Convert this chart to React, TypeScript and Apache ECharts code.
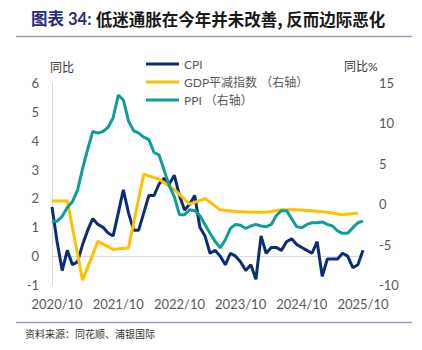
import React, { useEffect, useRef } from 'react';
import * as echarts from 'echarts';

// Monthly categories 2020/9 .. 2025/10
const months: string[] = [];
{
  let y = 2020;
  let m = 9;
  while (y < 2025 || (y === 2025 && m <= 10)) {
    months.push(`${y}/${m}`);
    m++;
    if (m > 12) { m = 1; y++; }
  }
}

const cpi = [
  1.7, 0.5, -0.5, 0.2, -0.3, -0.2, 0.4, 0.9, 1.3, 1.1, 1.0, 0.8,
  0.7, 1.5, 2.3, 1.5, 0.9, 0.9, 1.5, 2.1, 2.1, 2.5, 2.7, 2.5,
  2.8, 2.1, 1.6, 1.8, 2.1, 1.0, 0.7, 0.1, 0.2, 0.0, -0.3, 0.1,
  0.0, -0.2, -0.5, -0.3, -0.8, 0.7, 0.1, 0.3, 0.3, 0.2, 0.5, 0.6,
  0.4, 0.3, 0.2, 0.1, 0.5, -0.7, -0.1, -0.1, -0.1, 0.1, 0.0, -0.4,
  -0.3, 0.2,
];

const ppi = [
  -2.1, -2.1, -1.5, -0.4, 0.3, 1.7, 4.4, 6.8, 9.0, 8.8, 9.0, 9.5,
  10.7, 13.5, 12.9, 10.3, 9.1, 8.8, 8.3, 8.0, 6.4, 6.1, 4.2, 2.3,
  0.9, -1.3, -1.3, -0.7, -0.8, -1.4, -2.5, -3.6, -4.6, -5.4, -4.4, -3.0,
  -2.5, -2.6, -3.0, -2.7, -2.5, -2.7, -2.8, -2.5, -1.4, -0.8, -0.8, -1.8,
  -2.8, -2.9, -2.5, -2.3, -2.3, -2.2, -2.5, -2.7, -3.3, -3.6, -3.6, -2.9,
  -2.3, -2.1,
];

// GDP deflator, quarterly (quarter-end months)
const gdpQuarters = [
  '2020/9', '2020/12', '2021/3', '2021/6', '2021/9', '2021/12', '2022/3',
  '2022/6', '2022/9', '2022/12', '2023/3', '2023/6', '2023/9', '2023/12',
  '2024/3', '2024/6', '2024/9', '2024/12', '2025/3', '2025/6', '2025/9',
];
const gdpValues = [
  0.4, 0.4, -9.4, -4.6, -5.6, -5.4, 3.7,
  3.1, 1.8, 0.0, 0.7, -0.7, -0.9, -1.0,
  -1.0, -0.7, -0.7, -0.8, -1.0, -1.3, -1.1,
];

const xLabelsShown = ['2020/10', '2021/10', '2022/10', '2023/10', '2024/10', '2025/10'];

const leftName = '同比';
const rightName = '同比%';
const titleHead = '图表 34:';
const titleBody = '低迷通胀在今年并未改善, 反而边际恶化';
const sourceText = '资料来源：同花顺、浦银国际';

const seriesNames = ['CPI', 'GDP平减指数 （右轴）', 'PPI （右轴）'];

const FONT = 'Lato, "Noto Sans CJK SC", sans-serif';

export default function App() {
  const ref = useRef<HTMLDivElement>(null);

  useEffect(() => {
    if (!ref.current) return;
    const chart = echarts.init(ref.current, undefined, { renderer: 'svg' });

    const gdpFull = months.map((m) => {
      const i = gdpQuarters.indexOf(m);
      return i >= 0 ? gdpValues[i] : null;
    });

    const option: any = {
      animation: false,
      backgroundColor: '#ffffff',
      textStyle: { fontFamily: FONT },
      title: {
        left: 26,
        top: 5,
        text: `{a|${titleHead}} {b|${titleBody}}`,
        textStyle: {
          rich: {
            a: { color: '#2b2a80', fontWeight: 'bold', fontSize: 16.5, fontFamily: FONT },
            b: { color: '#1a1a1a', fontWeight: 'bold', fontSize: 16.5, fontFamily: '"Noto Sans CJK SC", sans-serif' },
          },
        },
      },
      legend: {
        orient: 'vertical',
        left: 141,
        top: 52,
        icon: 'rect',
        itemWidth: 33,
        itemHeight: 3,
        itemGap: 4,
        data: seriesNames,
        textStyle: { color: '#595959', fontSize: 12, lineHeight: 14, fontFamily: FONT },
      },
      grid: { left: 52, right: 59, top: 83, bottom: 65 },
      xAxis: [
        {
          type: 'category',
          data: months,
          boundaryGap: false,
          axisLine: { show: false, onZero: false },
          axisTick: { show: false },
          axisLabel: {
            color: '#595959',
            fontSize: 13,
            margin: 12,
            interval: (idx: number) => xLabelsShown.indexOf(months[idx]) >= 0,
          },
          splitLine: { show: false },
        },
        {
          type: 'category',
          data: months,
          boundaryGap: false,
          axisLine: { show: true, onZero: true, lineStyle: { color: '#d9d9d9', width: 1 } },
          axisTick: { show: false },
          axisLabel: { show: false },
          splitLine: { show: false },
        },
      ],
      yAxis: [
        {
          type: 'value',
          min: -1,
          max: 6,
          interval: 1,
          axisLine: { show: true, lineStyle: { color: '#d9d9d9', width: 1 } },
          axisTick: { show: false },
          axisLabel: { color: '#595959', fontSize: 13, margin: 13 },
          splitLine: { show: false },
        },
        {
          type: 'value',
          min: -10,
          max: 15,
          interval: 5,
          axisLine: { show: false },
          axisTick: { show: false },
          axisLabel: { color: '#595959', fontSize: 13, margin: 16 },
          splitLine: { show: false },
        },
      ],
      graphic: [
        { type: 'line', shape: { x1: 16, y1: 36.5, x2: 412, y2: 36.5 }, style: { stroke: '#9a98c4', lineWidth: 1.5 } },
        { type: 'line', shape: { x1: 16, y1: 322.5, x2: 412, y2: 322.5 }, style: { stroke: '#9a98c4', lineWidth: 1.5 } },
        { type: 'text', x: 50, y: 67, style: { text: leftName, fill: '#333333', fontSize: 12, fontFamily: FONT, verticalAlign: 'middle' } },
        { type: 'text', x: 344, y: 66, style: { text: rightName, fill: '#333333', fontSize: 12, fontFamily: FONT, verticalAlign: 'middle' } },
        { type: 'text', x: 25, y: 334, style: { text: sourceText, fill: '#333333', fontSize: 10, fontFamily: FONT, verticalAlign: 'middle' } },
      ],
      series: [
        {
          name: seriesNames[0],
          type: 'line',
          xAxisIndex: 0,
          yAxisIndex: 0,
          data: cpi,
          symbol: 'none',
          lineStyle: { color: '#0c2c74', width: 3 },
          itemStyle: { color: '#0c2c74' },
        },
        {
          name: seriesNames[1],
          type: 'line',
          xAxisIndex: 0,
          yAxisIndex: 1,
          data: gdpFull,
          connectNulls: true,
          symbol: 'none',
          lineStyle: { color: '#ffc000', width: 3 },
          itemStyle: { color: '#ffc000' },
        },
        {
          name: seriesNames[2],
          type: 'line',
          xAxisIndex: 0,
          yAxisIndex: 1,
          data: ppi,
          symbol: 'none',
          lineStyle: { color: '#0e9e98', width: 3 },
          itemStyle: { color: '#0e9e98' },
        },
      ],
    };

    chart.setOption(option);
    return () => chart.dispose();
  }, []);

  return (
    <div
      ref={ref}
      style={{ position: 'fixed', left: 0, top: 0, width: 422, height: 350, background: '#fff' }}
    />
  );
}
